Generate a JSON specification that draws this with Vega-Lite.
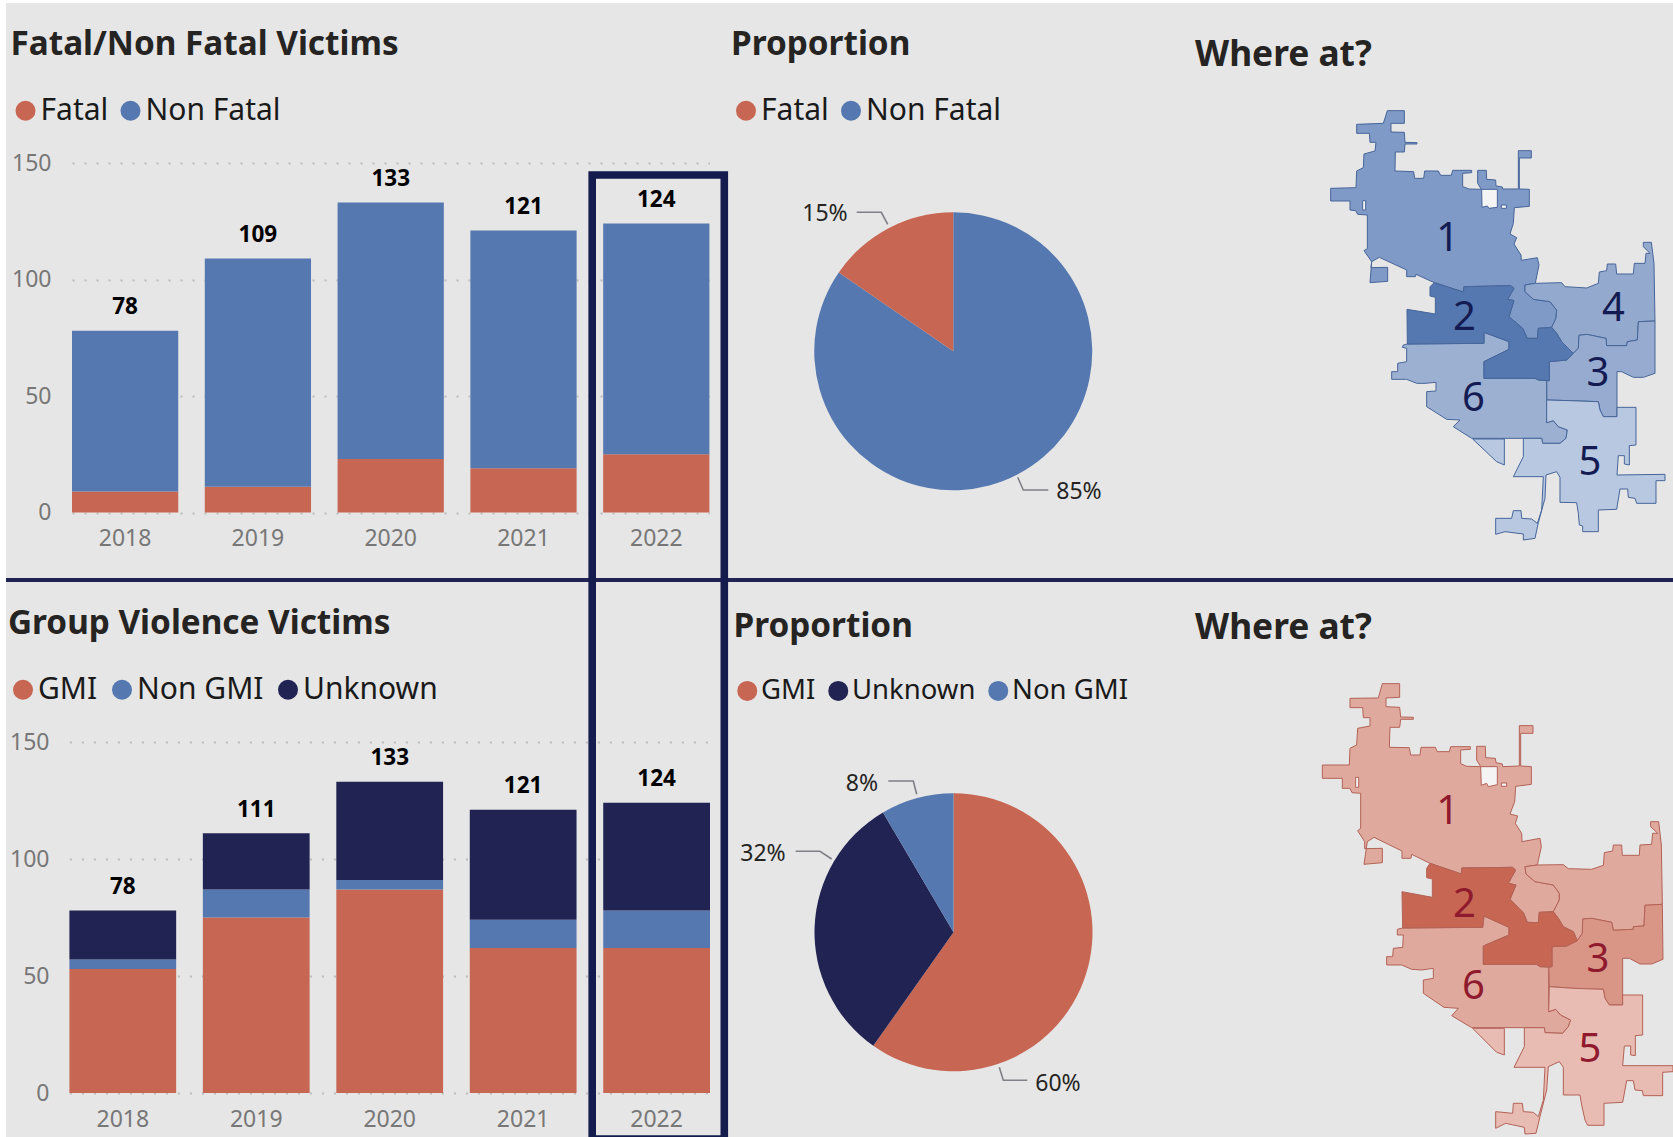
{
"$schema":"https://vega.github.io/schema/vega-lite/v6.json",
"width":1673,"height":1137,"autosize":"none","padding":0,"background":"#E6E6E6",
"config":{"font":"Noto Sans","view":{"stroke":null},
 "axis":{"labelFont":"Noto Sans","labelFontSize":23,"labelColor":"#777777","domain":false,"ticks":false,"title":null,"gridColor":"#BBBBBB","gridDash":[2,10],"gridWidth":2},
 "legend":{"direction":"horizontal","orient":"none","padding":0,"symbolType":"circle","symbolSize":400,"symbolStrokeWidth":0,"labelFont":"Noto Sans","labelFontSize":30,"labelColor":"#1A1A1A","labelOffset":0,"columnPadding":7,"titleFont":"Noto Sans","titleFontSize":33.3,"titleFontWeight":700,"titleColor":"#252423","titlePadding":34,"titleLimit":700,"labelLimit":300,"symbolOpacity":1}},
"datasets":{
"panel":[{"a":0,"b":1}],
"fatal":[
{"year":"2018","cat":"Fatal","rank":1,"n":9},{"year":"2018","cat":"Non Fatal","rank":2,"n":69},
{"year":"2019","cat":"Fatal","rank":1,"n":11},{"year":"2019","cat":"Non Fatal","rank":2,"n":98},
{"year":"2020","cat":"Fatal","rank":1,"n":23},{"year":"2020","cat":"Non Fatal","rank":2,"n":110},
{"year":"2021","cat":"Fatal","rank":1,"n":19},{"year":"2021","cat":"Non Fatal","rank":2,"n":102},
{"year":"2022","cat":"Fatal","rank":1,"n":25},{"year":"2022","cat":"Non Fatal","rank":2,"n":99}],
"fatalTotal":[{"year":"2018","total":78},{"year":"2019","total":109},{"year":"2020","total":133},{"year":"2021","total":121},{"year":"2022","total":124}],
"gmi":[
{"year":"2018","cat":"GMI","rank":1,"n":53},{"year":"2018","cat":"Non GMI","rank":2,"n":4},{"year":"2018","cat":"Unknown","rank":3,"n":21},
{"year":"2019","cat":"GMI","rank":1,"n":75},{"year":"2019","cat":"Non GMI","rank":2,"n":12},{"year":"2019","cat":"Unknown","rank":3,"n":24},
{"year":"2020","cat":"GMI","rank":1,"n":87},{"year":"2020","cat":"Non GMI","rank":2,"n":4},{"year":"2020","cat":"Unknown","rank":3,"n":42},
{"year":"2021","cat":"GMI","rank":1,"n":62},{"year":"2021","cat":"Non GMI","rank":2,"n":12},{"year":"2021","cat":"Unknown","rank":3,"n":47},
{"year":"2022","cat":"GMI","rank":1,"n":62},{"year":"2022","cat":"Non GMI","rank":2,"n":16},{"year":"2022","cat":"Unknown","rank":3,"n":46}],
"gmiTotal":[{"year":"2018","total":78},{"year":"2019","total":111},{"year":"2020","total":133},{"year":"2021","total":121},{"year":"2022","total":124}],
"fatalPie":[{"cat":"Non Fatal","rank":1,"share":478},{"cat":"Fatal","rank":2,"share":87}],
"gmiPie":[{"cat":"GMI","rank":1,"share":339},{"cat":"Unknown","rank":2,"share":180},{"cat":"Non GMI","rank":3,"share":48}],
"pieLabels":[{"label":"15%","lon":-1395,"lat":372},{"label":"85%","lon":-633,"lat":1206},{"label":"8%","lon":-1284,"lat":2082},{"label":"32%","lon":-1581,"lat":2292},{"label":"60%","lon":-696,"lat":2982}],
"leaders":[
{"type":"Feature","properties":{"label":"15%"},"geometry":{"type":"LineString","coordinates":[[-1299.9,366.9],[-1226.1,366.9],[-1206.9,402.9]]}},
{"type":"Feature","properties":{"label":"85%"},"geometry":{"type":"LineString","coordinates":[[-816.9,1161.9],[-800.1,1200],[-725.1,1200]]}},
{"type":"Feature","properties":{"label":"8%"},"geometry":{"type":"LineString","coordinates":[[-1205.1,2073],[-1130.1,2073],[-1119.9,2112.9]]}},
{"type":"Feature","properties":{"label":"32%"},"geometry":{"type":"LineString","coordinates":[[-1482.9,2283.9],[-1410,2283.9],[-1374.9,2307]]}},
{"type":"Feature","properties":{"label":"60%"},"geometry":{"type":"LineString","coordinates":[[-872.1,2931.9],[-860.1,2970.9],[-788.1,2970.9]]}}],
"mapTop":[
{"type":"Feature","properties":{"d":"1"},"geometry":{"type":"Polygon","coordinates":[[[292,62],[343,62],[343,100],[303,100],[303,126],[343,127],[345,157],[381,158],[381,162],[345,162],[343,186],[316,186],[315,243],[371,245],[374,265],[401,265],[404,243],[445,243],[452,256],[484,256],[488,241],[545,241],[545,248],[518,250],[518,290],[538,297],[574,298],[563,280],[563,241],[589,241],[590,268],[617,270],[618,288],[637,291],[638,297],[685,297],[685,182],[724,182],[724,204],[688,204],[688,297],[718,298],[718,349],[673,353],[670,400],[660,432],[680,443],[672,462],[693,495],[694,511],[742,503],[747,525],[736,580],[705,585],[705,605],[730,628],[780,635],[800,660],[798,685],[785,712],[745,715],[742,745],[712,745],[698,715],[657,680],[672,632],[653,628],[672,595],[662,587],[522,590],[520,606],[433,578],[378,553],[376,560],[350,560],[350,540],[268,502],[245,515],[240,578],[293,574],[293,532],[243,533],[245,515],[222,482],[232,476],[232,375],[203,373],[197,362],[180,360],[180,333],[122,333],[122,295],[198,293],[200,243],[220,233],[222,192],[255,183],[258,157],[240,157],[238,130],[200,130],[200,103],[280,100],[292,62]]]}},
{"type":"Feature","properties":{"d":"4"},"geometry":{"type":"Polygon","coordinates":[[[736,580],[815,578],[825,590],[890,594],[925,580],[928,546],[950,542],[952,522],[977,522],[980,552],[1030,552],[1033,520],[1065,520],[1068,490],[1080,490],[1060,470],[1060,457],[1084,457],[1092,520],[1095,693],[1045,695],[1042,750],[1012,755],[1010,767],[950,767],[948,745],[890,733],[867,736],[865,775],[850,790],[815,755],[800,730],[785,712],[798,685],[800,660],[780,635],[730,628],[705,605],[705,585],[736,580]]]}},
{"type":"Feature","properties":{"d":"3"},"geometry":{"type":"Polygon","coordinates":[[[850,790],[865,775],[867,736],[890,733],[948,745],[950,767],[1010,767],[1012,755],[1042,750],[1045,695],[1095,693],[1095,850],[1060,862],[1030,862],[995,845],[981,845],[981,980],[940,980],[930,960],[925,935],[840,932],[770,930],[770,872],[778,872],[778,815],[830,810],[850,790]]]}},
{"type":"Feature","properties":{"d":"6"},"geometry":{"type":"Polygon","coordinates":[[[352,762],[582,760],[582,727],[657,755],[657,778],[582,815],[582,865],[735,865],[745,870],[770,872],[770,998],[790,992],[805,1010],[832,1020],[828,1045],[810,1060],[758,1060],[755,1045],[545,1045],[490,1010],[510,990],[470,988],[410,950],[410,905],[438,903],[438,877],[405,880],[380,880],[350,868],[305,868],[305,845],[323,845],[323,820],[350,815],[350,775],[337,772],[340,765],[352,762]]]}},
{"type":"Feature","properties":{"d":"5"},"geometry":{"type":"Polygon","coordinates":[[[770,930],[840,932],[925,935],[930,960],[940,980],[981,980],[981,952],[1038,952],[1038,1065],[1018,1067],[1018,1125],[1003,1122],[1003,1097],[985,1097],[981,1155],[1125,1153],[1125,1172],[1098,1172],[1098,1240],[1040,1240],[1035,1225],[1015,1222],[1013,1197],[990,1197],[980,1258],[925,1260],[925,1325],[878,1325],[878,1308],[868,1305],[865,1270],[860,1238],[810,1237],[810,1162],[800,1145],[768,1155],[765,1225],[745,1298],[735,1345],[700,1350],[700,1332],[645,1325],[617,1333],[617,1285],[665,1285],[670,1262],[693,1262],[695,1285],[725,1287],[742,1300],[755,1260],[760,1160],[670,1160],[700,1100],[700,1045],[755,1045],[758,1060],[810,1060],[828,1045],[832,1020],[805,1010],[790,992],[770,998],[770,930]]]}},
{"type":"Feature","properties":{"d":"5"},"geometry":{"type":"Polygon","coordinates":[[[548,1047],[643,1047],[643,1125],[620,1115],[548,1047]]]}},
{"type":"Feature","properties":{"d":"2"},"geometry":{"type":"Polygon","coordinates":[[[433,578],[520,606],[522,590],[662,587],[672,595],[653,628],[672,632],[657,680],[698,715],[712,745],[742,745],[745,715],[785,712],[800,730],[815,755],[850,790],[830,810],[778,815],[778,872],[745,870],[735,865],[582,865],[582,815],[657,778],[657,755],[582,727],[582,760],[352,762],[351,658],[436,672],[436,622],[420,618],[420,590],[433,578]]]}},
{"type":"Feature","properties":{"d":"hole"},"geometry":{"type":"Polygon","coordinates":[[[575,298],[622,298],[622,352],[597,355],[592,348],[576,352],[575,298]]]}},
{"type":"Feature","properties":{"d":"hole"},"geometry":{"type":"Polygon","coordinates":[[[218,332],[227,332],[227,360],[218,360],[218,332]]]}},
{"type":"Feature","properties":{"d":"hole"},"geometry":{"type":"Polygon","coordinates":[[[634,345],[649,345],[649,355],[634,355],[634,345]]]}}],
"mapBottom":[
{"type":"Feature","properties":{"d":"1"},"geometry":{"type":"Polygon","coordinates":[[[277,1781],[329,1781],[329,1822],[288,1824],[288,1850],[329,1852],[332,1881],[370,1882],[370,1888],[332,1888],[329,1912],[300,1912],[298,1972],[358,1973],[362,1995],[390,1995],[393,1972],[436,1972],[442,1985],[478,1985],[482,1970],[541,1970],[541,1978],[512,1980],[512,2021],[530,2029],[572,2030],[560,2010],[560,1969],[586,1969],[587,2003],[616,2005],[618,2018],[637,2022],[638,2030],[688,2028],[688,1907],[729,1907],[729,1930],[692,1930],[692,2028],[724,2030],[724,2083],[677,2089],[674,2135],[660,2172],[683,2178],[676,2200],[695,2230],[696,2255],[750,2245],[754,2270],[742,2325],[705,2330],[708,2352],[735,2375],[790,2385],[808,2410],[808,2430],[790,2465],[748,2467],[745,2498],[712,2497],[700,2468],[660,2428],[678,2385],[655,2380],[677,2340],[667,2332],[516,2334],[514,2352],[420,2320],[365,2293],[363,2305],[336,2305],[336,2283],[252,2242],[232,2255],[222,2323],[277,2318],[277,2275],[224,2276],[224,2255],[203,2222],[212,2215],[212,2110],[186,2108],[180,2095],[157,2095],[157,2065],[97,2065],[97,2025],[178,2025],[180,1975],[200,1965],[203,1915],[240,1908],[240,1883],[220,1883],[218,1853],[180,1853],[180,1825],[265,1824],[277,1781]]]}},
{"type":"Feature","properties":{"d":"4"},"geometry":{"type":"Polygon","coordinates":[[[742,2325],[820,2324],[835,2336],[905,2338],[940,2326],[943,2288],[968,2283],[970,2265],[995,2265],[997,2296],[1048,2296],[1050,2265],[1085,2263],[1088,2230],[1103,2230],[1082,2210],[1082,2195],[1106,2195],[1114,2265],[1117,2443],[1065,2446],[1062,2508],[1030,2510],[1030,2518],[970,2521],[965,2497],[905,2485],[878,2487],[877,2530],[862,2552],[850,2525],[820,2510],[805,2485],[790,2465],[808,2430],[808,2410],[790,2385],[735,2375],[708,2352],[705,2330],[742,2325]]]}},
{"type":"Feature","properties":{"d":"3"},"geometry":{"type":"Polygon","coordinates":[[[862,2552],[877,2530],[878,2487],[905,2485],[965,2497],[970,2521],[1030,2518],[1030,2510],[1062,2508],[1065,2446],[1117,2443],[1119,2608],[1085,2622],[1050,2622],[1018,2605],[998,2605],[998,2745],[958,2745],[945,2725],[940,2698],[850,2695],[778,2690],[776,2632],[786,2630],[786,2570],[830,2568],[862,2552]]]}},
{"type":"Feature","properties":{"d":"6"},"geometry":{"type":"Polygon","coordinates":[[[338,2514],[578,2512],[582,2478],[657,2512],[657,2535],[580,2568],[580,2623],[740,2623],[750,2630],[776,2632],[776,2765],[797,2758],[812,2775],[842,2790],[835,2810],[818,2830],[765,2828],[763,2813],[545,2813],[485,2777],[505,2755],[462,2752],[400,2710],[400,2670],[430,2665],[430,2635],[395,2640],[365,2638],[335,2625],[290,2625],[290,2600],[308,2600],[310,2575],[338,2572],[340,2535],[322,2535],[322,2518],[338,2514]]]}},
{"type":"Feature","properties":{"d":"5"},"geometry":{"type":"Polygon","coordinates":[[[778,2690],[850,2695],[940,2698],[945,2725],[958,2745],[998,2745],[998,2715],[1058,2715],[1058,2835],[1036,2837],[1036,2897],[1022,2895],[1022,2868],[1003,2868],[998,2927],[1149,2927],[1149,2945],[1118,2947],[1118,3017],[1060,3017],[1057,3002],[1035,3000],[1030,2972],[1010,2972],[998,3037],[942,3040],[942,3106],[893,3106],[885,3090],[875,3045],[870,3015],[820,3015],[820,2932],[808,2915],[775,2930],[770,3000],[750,3080],[738,3130],[705,3132],[703,3112],[647,3100],[617,3115],[617,3065],[668,3070],[670,3040],[697,3040],[700,3065],[730,3067],[745,3080],[760,3030],[765,2932],[672,2932],[703,2870],[703,2813],[763,2813],[765,2828],[818,2830],[835,2810],[842,2790],[812,2775],[797,2758],[776,2765],[778,2690]]]}},
{"type":"Feature","properties":{"d":"5"},"geometry":{"type":"Polygon","coordinates":[[[548,2815],[643,2815],[643,2895],[620,2887],[548,2815]]]}},
{"type":"Feature","properties":{"d":"2"},"geometry":{"type":"Polygon","coordinates":[[[420,2320],[514,2352],[516,2334],[667,2332],[677,2340],[655,2380],[678,2385],[660,2428],[700,2468],[712,2497],[745,2498],[748,2467],[790,2465],[805,2485],[820,2510],[850,2525],[862,2552],[830,2568],[786,2570],[786,2630],[750,2630],[740,2623],[580,2623],[580,2568],[657,2535],[657,2512],[582,2478],[578,2512],[338,2514],[336,2405],[427,2422],[427,2367],[410,2363],[410,2335],[420,2320]]]}},
{"type":"Feature","properties":{"d":"hole"},"geometry":{"type":"Polygon","coordinates":[[[572,2030],[622,2030],[622,2084],[595,2090],[590,2080],[574,2086],[572,2030]]]}},
{"type":"Feature","properties":{"d":"hole"},"geometry":{"type":"Polygon","coordinates":[[[197,2062],[206,2062],[206,2092],[197,2092],[197,2062]]]}},
{"type":"Feature","properties":{"d":"hole"},"geometry":{"type":"Polygon","coordinates":[[[634,2079],[650,2079],[650,2089],[634,2089],[634,2079]]]}}],
"numsTop":[{"n":"1","lon":473,"lat":448},{"n":"2","lon":523,"lat":683},{"n":"3","lon":924,"lat":851},{"n":"4","lon":970,"lat":658},{"n":"5","lon":900,"lat":1118},{"n":"6","lon":550,"lat":928}],
"numsBottom":[{"n":"1","lon":473,"lat":2166},{"n":"2","lon":523,"lat":2446},{"n":"3","lon":924,"lat":2611},{"n":"5","lon":900,"lat":2880},{"n":"6","lon":550,"lat":2691}],
"heads":[{"h":"Where at?","lon":-285,"lat":-104},{"h":"Where at?","lon":-285,"lat":1615}]
},
"layer":[
{"layer":[
 {"data":{"name":"fatal"},"mark":{"type":"bar"},
  "encoding":{
   "x":{"field":"year","type":"ordinal","scale":{"type":"band","range":[72,709.4],"paddingInner":0.2,"paddingOuter":0},"axis":{"orient":"bottom","offset":-624.5,"labelPadding":14.5,"labelAngle":0,"grid":false}},
   "y":{"field":"n","type":"quantitative","stack":"zero","scale":{"domain":[0,150],"range":[512.5,163],"nice":false},"axis":{"orient":"left","offset":-51,"labelPadding":0,"values":[0,50,100,150],"grid":true}},
   "color":{"field":"cat","type":"nominal","scale":{"domain":["Fatal","Non Fatal"],"range":["#C76652","#5578B0"]},"legend":{"title":"Fatal/Non Fatal Victims","legendX":10.5,"legendY":28.5}},
   "order":{"field":"rank","type":"quantitative"}}},
 {"data":{"name":"fatalTotal"},"mark":{"type":"text","font":"Noto Sans","fontWeight":700,"fontSize":22.5,"color":"#000000","dy":-23.5},
  "encoding":{"x":{"field":"year","type":"ordinal"},"y":{"field":"total","type":"quantitative"},"text":{"field":"total","type":"quantitative"}}}
 ]},
{"layer":[
 {"data":{"name":"gmi"},"mark":{"type":"bar"},
  "encoding":{
   "x":{"field":"year","type":"ordinal","scale":{"type":"band","range":[69.4,710],"paddingInner":0.2,"paddingOuter":0},"axis":{"orient":"bottom","offset":-44.5,"labelPadding":15.5,"labelAngle":0,"grid":false}},
   "y":{"field":"n","type":"quantitative","stack":"zero","scale":{"domain":[0,150],"range":[1093,742],"nice":false},"axis":{"orient":"left","offset":-49,"labelPadding":0,"values":[0,50,100,150],"grid":true}},
   "color":{"field":"cat","type":"nominal","scale":{"domain":["GMI","Non GMI","Unknown"],"range":["#C76652","#5578B0","#212353"]},"legend":{"title":"Group Violence Victims","legendX":8,"legendY":607.5,"columnPadding":9}},
   "order":{"field":"rank","type":"quantitative"}}},
 {"data":{"name":"gmiTotal"},"mark":{"type":"text","font":"Noto Sans","fontWeight":700,"fontSize":22.5,"color":"#000000","dy":-23.5},
  "encoding":{"x":{"field":"year","type":"ordinal"},"y":{"field":"total","type":"quantitative"},"text":{"field":"total","type":"quantitative"}}}
 ]},
{"data":{"name":"fatalPie"},"mark":{"type":"arc","outerRadius":139},
 "encoding":{
  "theta":{"field":"share","type":"quantitative","stack":"zero"},
  "order":{"field":"rank","type":"quantitative"},
  "x":{"datum":0.5,"type":"quantitative","scale":{"domain":[0,1],"range":[814,1092.5]},"axis":null},
  "y":{"datum":0.5,"type":"quantitative","scale":{"domain":[0,1],"range":[212.5,490]},"axis":null},
  "color":{"field":"cat","type":"nominal","scale":{"domain":["Fatal","Non Fatal"],"range":["#C76652","#5578B0"]},"legend":{"title":"Proportion","legendX":731,"legendY":28.5}}}},
{"data":{"name":"gmiPie"},"mark":{"type":"arc","outerRadius":139},
 "encoding":{
  "theta":{"field":"share","type":"quantitative","stack":"zero"},
  "order":{"field":"rank","type":"quantitative"},
  "x":{"datum":0.5,"type":"quantitative","scale":{"domain":[0,1],"range":[814,1093]},"axis":null},
  "y":{"datum":0.5,"type":"quantitative","scale":{"domain":[0,1],"range":[793.5,1071]},"axis":null},
  "color":{"field":"cat","type":"nominal","scale":{"domain":["GMI","Unknown","Non GMI"],"range":["#C76652","#212353","#5578B0"]},"legend":{"title":"Proportion","legendX":733.5,"legendY":610.5,"labelFontSize":27.5,"columnPadding":9,"titlePadding":33}}}},
{"data":{"name":"leaders"},"projection":{"type":"identity","scale":0.33333,"translate":[1290,90]},"mark":{"type":"geoshape","filled":false,"stroke":"#7F7F86","strokeWidth":1.6}},
{"data":{"name":"pieLabels"},"projection":{"type":"identity","scale":0.33333,"translate":[1290,90]},"mark":{"type":"text","font":"Noto Sans","fontSize":23,"color":"#252423"},
 "encoding":{"longitude":{"field":"lon","type":"quantitative"},"latitude":{"field":"lat","type":"quantitative"},"text":{"field":"label"}}},
{"data":{"name":"mapTop"},"projection":{"type":"identity","scale":0.33333,"translate":[1290,90]},"mark":{"type":"geoshape","stroke":"#46659A","strokeWidth":1},
 "encoding":{"color":{"field":"properties.d","type":"nominal","legend":null,"scale":{"domain":["1","2","3","4","5","6","hole"],"range":["#7F9AC6","#5578B0","#96ABCF","#93AACE","#B7C8E0","#9CB0D2","#F4F4F4"]}}}},
{"data":{"name":"numsTop"},"projection":{"type":"identity","scale":0.33333,"translate":[1290,90]},"mark":{"type":"text","font":"Noto Sans","fontSize":40,"color":"#141B52"},
 "encoding":{"longitude":{"field":"lon","type":"quantitative"},"latitude":{"field":"lat","type":"quantitative"},"text":{"field":"n"}}},
{"data":{"name":"heads"},"projection":{"type":"identity","scale":0.33333,"translate":[1290,90]},"mark":{"type":"text","font":"Noto Sans","fontWeight":700,"fontSize":35.3,"color":"#252423","align":"left"},
 "encoding":{"longitude":{"field":"lon","type":"quantitative"},"latitude":{"field":"lat","type":"quantitative"},"text":{"field":"h"}}},
{"data":{"name":"mapBottom"},"projection":{"type":"identity","scale":0.33333,"translate":[1290,90]},"mark":{"type":"geoshape","stroke":"#B36256","strokeWidth":1},
 "encoding":{"color":{"field":"properties.d","type":"nominal","legend":null,"scale":{"domain":["1","2","3","4","5","6","hole"],"range":["#E0A99E","#C76652","#D99686","#E0A99E","#E8BBB3","#E0A99E","#F4F4F4"]}}}},
{"data":{"name":"numsBottom"},"projection":{"type":"identity","scale":0.33333,"translate":[1290,90]},"mark":{"type":"text","font":"Noto Sans","fontSize":40,"color":"#8F1A2E"},
 "encoding":{"longitude":{"field":"lon","type":"quantitative"},"latitude":{"field":"lat","type":"quantitative"},"text":{"field":"n"}}},
{"data":{"name":"panel"},"mark":{"type":"rect","fill":"#FFFFFF"},
 "encoding":{"x":{"field":"a","type":"quantitative","scale":{"domain":[0,1],"range":[0,6]},"axis":null},"x2":{"field":"b"},
  "y":{"field":"a","type":"quantitative","scale":{"domain":[0,1],"range":[0,1137]},"axis":null},"y2":{"field":"b"}}},
{"data":{"name":"panel"},"mark":{"type":"rect","fill":"#FFFFFF"},
 "encoding":{"x":{"field":"a","type":"quantitative","scale":{"domain":[0,1],"range":[0,1673]},"axis":null},"x2":{"field":"b"},
  "y":{"field":"a","type":"quantitative","scale":{"domain":[0,1],"range":[0,3]},"axis":null},"y2":{"field":"b"}}},
{"data":{"name":"panel"},"mark":{"type":"rule","color":"#212353","strokeWidth":4},
 "encoding":{"x":{"field":"a","type":"quantitative","scale":{"domain":[0,1],"range":[6,1673]},"axis":null},"x2":{"field":"b"},
  "y":{"datum":580,"type":"quantitative","scale":{"domain":[0,1137],"range":[0,1137]},"axis":null}}},
{"data":{"values":[{"year":"2022","a":0,"b":1}]},"mark":{"type":"rect","fill":null,"fillOpacity":0,"stroke":"#141B4D","strokeWidth":7.6},
 "encoding":{"x":{"field":"year","type":"ordinal","scale":{"type":"band","range":[592.2,724.3],"padding":0},"axis":null},
  "y":{"field":"a","type":"quantitative","scale":{"domain":[0,1],"range":[175,1139]},"axis":null},"y2":{"field":"b"}}}
],
"resolve":{"scale":{"x":"independent","y":"independent","color":"independent","theta":"independent"},"axis":{"x":"independent","y":"independent"},"legend":{"color":"independent"}}
}
